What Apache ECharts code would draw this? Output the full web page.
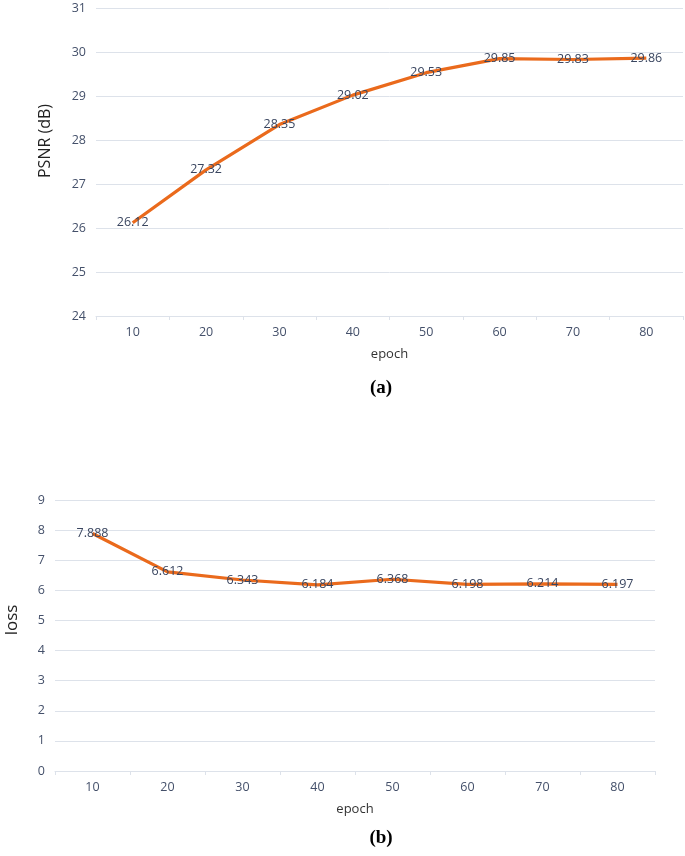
<!DOCTYPE html>
<html>
<head>
<meta charset="utf-8">
<script src="https://cdn.jsdelivr.net/npm/echarts@6/dist/echarts.min.js"></script>
<style>html,body{margin:0;padding:0;background:#fff}#c{width:685px;height:856px}</style>
</head>
<body>
<div id="c"></div>
<script>
const epochs = ['10','20','30','40','50','60','70','80'];
const psnr = [26.12, 27.32, 28.35, 29.02, 29.53, 29.85, 29.83, 29.86];
const loss = [7.888, 6.612, 6.343, 6.184, 6.368, 6.198, 6.214, 6.197];

const axisTxt = '#44506a';
const gridCol = '#dde2ea';
const lineCol = '#EA6A1C';
const font = 'Open Sans';

const chart = echarts.init(document.getElementById('c'), null, {renderer: 'canvas'});

function xAx(idx) {
  return {
    type: 'category', gridIndex: idx, data: epochs, boundaryGap: true,
    name: 'epoch', nameLocation: 'middle', nameGap: 32,
    nameTextStyle: {color: '#333', fontSize: 13, fontFamily: font},
    axisLine: {lineStyle: {color: gridCol, width: 1}},
    axisTick: {show: true, alignWithLabel: false, length: 4, lineStyle: {color: gridCol}},
    axisLabel: {color: axisTxt, fontSize: 12.5, fontFamily: font, margin: 10}
  };
}
function yAx(idx, min, max) {
  return {
    type: 'value', gridIndex: idx, min: min, max: max, interval: 1,
    axisLine: {show: false}, axisTick: {show: false},
    splitLine: {lineStyle: {color: gridCol, width: 1}},
    axisLabel: {color: axisTxt, fontSize: 12.5, fontFamily: font, margin: 10}
  };
}
function ser(idx, data) {
  return {
    type: 'line', xAxisIndex: idx, yAxisIndex: idx, data: data,
    showSymbol: true, symbol: 'circle', symbolSize: 1,
    itemStyle: {color: 'rgba(0,0,0,0)'},
    lineStyle: {color: lineCol, width: 3.2},
    label: {show: true, position: 'inside', color: '#3a4660', fontSize: 12.5, fontFamily: font},
    labelLayout: {hideOverlap: false},
    emphasis: {disabled: true},
    animation: false
  };
}

chart.setOption({
  animation: false,
  grid: [
    {left: 96, right: 2, top: 8, height: 308},
    {left: 55, right: 30, top: 500, height: 271}
  ],
  xAxis: [xAx(0), xAx(1)],
  yAxis: [yAx(0, 24, 31), yAx(1, 0, 9)],
  series: [ser(0, psnr), ser(1, loss)],
  graphic: [
    {type: 'text', x: 45, y: 141, rotation: Math.PI / 2,
     style: {text: 'PSNR (dB)', fill: '#222', font: '16px "Open Sans"', align: 'center', verticalAlign: 'middle'}},
    {type: 'text', x: 12, y: 620, rotation: Math.PI / 2,
     style: {text: 'loss', fill: '#222', font: '17px "Open Sans"', align: 'center', verticalAlign: 'middle'}},
    {type: 'text', x: 381, y: 388,
     style: {text: '(a)', fill: '#000', font: 'bold 19px "Liberation Serif"', align: 'center', verticalAlign: 'middle'}},
    {type: 'text', x: 381, y: 838,
     style: {text: '(b)', fill: '#000', font: 'bold 19px "Liberation Serif"', align: 'center', verticalAlign: 'middle'}}
  ]
});
</script>
</body>
</html>
